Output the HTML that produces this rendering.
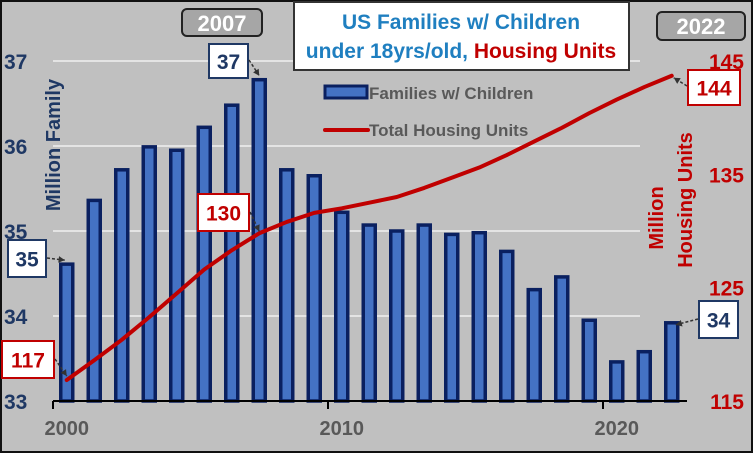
<!DOCTYPE html>
<html><head><meta charset="utf-8"><style>
body{margin:0;background:#fff}
#wrap{position:relative;width:753px;height:453px;overflow:hidden;font-family:"Liberation Sans",sans-serif}
</style></head><body>
<div id="wrap">
<svg id="svg" width="753" height="453" xmlns="http://www.w3.org/2000/svg">
<rect x="1" y="1" width="751" height="451" fill="#c0c0c0" stroke="#111" stroke-width="2"/>
<g id="grid"></g><g id="bars"></g><g id="line"></g><g id="axes"></g>
<g font-weight="bold">
<rect x="182" y="9" width="80" height="27" rx="5" fill="#a6a6a6" stroke="#222" stroke-width="2"/>
<text x="222" y="31" font-size="22" text-anchor="middle" fill="#fff">2007</text>
<rect x="657" y="12" width="88" height="28" rx="5" fill="#a6a6a6" stroke="#222" stroke-width="2"/>
<text x="701" y="34" font-size="22" text-anchor="middle" fill="#fff">2022</text>
<rect x="294" y="2" width="335" height="68" fill="#fff" stroke="#333" stroke-width="2"/>
<text x="461" y="29" font-size="21" text-anchor="middle" fill="#1f7fc0">US Families w/ Children</text>
<text x="461" y="58" font-size="21" text-anchor="middle"><tspan fill="#1f7fc0">under 18yrs/old, </tspan><tspan fill="#c00000">Housing Units</tspan></text>
<text transform="translate(60,145) rotate(-90)" font-size="20" text-anchor="middle" fill="#1f3864">Million Family</text>
<text transform="translate(663,218) rotate(-90)" font-size="20" text-anchor="middle" fill="#c00000">Million</text>
<text transform="translate(692,200) rotate(-90)" font-size="20" text-anchor="middle" fill="#c00000">Housing Units</text>
</g>
<g>
<rect x="325" y="86" width="42" height="12" fill="#4472c4" stroke="#0a2060" stroke-width="3"/>
<text x="369" y="99" font-size="17" font-weight="bold" fill="#595959">Families w/ Children</text>
<line x1="325" y1="130" x2="368" y2="130" stroke="#c00000" stroke-width="4" stroke-linecap="round"/>
<text x="369" y="136" font-size="17" font-weight="bold" fill="#595959">Total Housing Units</text>
</g>
<g id="ann" font-size="21" font-weight="bold"></g>
</svg>
</div>
<script>
const years=[2000,2001,2002,2003,2004,2005,2006,2007,2008,2009,2010,2011,2012,2013,2014,2015,2016,2017,2018,2019,2020,2021,2022];
const families=[34.61,35.36,35.72,35.99,35.95,36.22,36.48,36.78,35.72,35.65,35.22,35.07,35.0,35.07,34.96,34.98,34.76,34.31,34.46,33.95,33.46,33.58,33.92];
const housing=[116.85,118.6,120.4,122.4,124.5,126.6,128.3,129.8,130.8,131.6,132.0,132.5,133.0,133.8,134.7,135.6,136.7,137.9,139.1,140.4,141.6,142.7,143.7];
const leftTicks=[33,34,35,36,37];
const rightTicks=[115,125,135,145];
const xLabels=[2000,2010,2020];
const NS="http://www.w3.org/2000/svg";
const X0=53,BW=27.5,Y0=401,Y1=61;
const xc=i=>X0+(i+0.5)*BW;
const yL=v=>Y0-(v-33)/(37-33)*(Y0-Y1);
const yR=v=>Y0-(v-115)/(145-115)*(Y0-Y1);
function mk(tag,attrs,parent){const e=document.createElementNS(NS,tag);for(const k in attrs)e.setAttribute(k,attrs[k]);parent.appendChild(e);return e;}
const grid=document.getElementById('grid'),bars=document.getElementById('bars'),line=document.getElementById('line'),axes=document.getElementById('axes'),ann=document.getElementById('ann');
leftTicks.forEach(t=>{
 if(t>33){const g=mk('line',{x1:X0,x2:640,y1:yL(t),y2:yL(t),stroke:'#e4e4e4','stroke-width':2},grid);
 
 }
 const tx=mk('text',{x:4,y:yL(t)+8,'font-size':21,'font-weight':'bold',fill:'#1f3864'},axes);tx.textContent=t;
 
 
});
rightTicks.forEach(t=>{
 const tx=mk('text',{x:744,y:yR(t)+8,'font-size':21,'font-weight':'bold',fill:'#c00000','text-anchor':'end'},axes);tx.textContent=t;
 
 
});
families.forEach((v,i)=>{
 const r=mk('rect',{x:xc(i)-6,y:yL(v),width:12,height:Y0-yL(v),fill:'#4472c4',stroke:'#0a2060','stroke-width':3.5},bars);
 
 
});
const pl=mk('polyline',{points:housing.map((v,i)=>xc(i)+','+yR(v)).join(' '),fill:'none',stroke:'#c00000','stroke-width':4,'stroke-linejoin':'round','stroke-linecap':'round'},line);


const ax=mk('line',{x1:X0,x2:687,y1:Y0,y2:Y0,stroke:'#000','stroke-width':2},axes);


xLabels.forEach(yr=>{
 const i=years.indexOf(yr);
 const tk=mk('line',{x1:X0+i*BW,x2:X0+i*BW,y1:Y0,y2:Y0+8,stroke:'#000','stroke-width':2},axes);
 
 
 const tx=mk('text',{x:xc(i),y:Y0+34,'font-size':20,'font-weight':'bold',fill:'#595959','text-anchor':'middle'},axes);tx.textContent=yr;
 
 
});
function box(x,y,w,h,txt,col,name){
 const r=mk('rect',{x:x,y:y,width:w,height:h,fill:'#fff',stroke:col,'stroke-width':2},ann);
 
 
 const t=mk('text',{x:x+w/2,y:y+h/2+8,fill:col,'text-anchor':'middle'},ann);t.textContent=txt;
 
 
}
function arrow(x1,y1,x2,y2,name){
 const l=mk('path',{d:`M${x1},${y1} L${x2},${y2}`,stroke:'#333','stroke-width':1.5,'stroke-dasharray':'3,2',fill:'none'},ann);
 
 
 const a=Math.atan2(y2-y1,x2-x1),s=7;
 const h=mk('polygon',{points:`${x2},${y2} ${x2-s*Math.cos(a-0.5)},${y2-s*Math.sin(a-0.5)} ${x2-s*Math.cos(a+0.5)},${y2-s*Math.sin(a+0.5)}`,fill:'#333'},ann);
 
 
}
box(209,44,39,34,'37','#1f3864','label-37');arrow(249,60,xc(7),yL(families[7])-4,'arrow-37');
box(8,240,38,37,'35','#1f3864','label-35');arrow(47,258,xc(0)-2,yL(families[0])-4,'arrow-35');
box(2,341,52,37,'117','#c00000','label-117');arrow(55,359,xc(0),yR(housing[0])-4,'arrow-117');
box(198,194,51,37,'130','#c00000','label-130');arrow(250,212,xc(7),yR(housing[7])-2,'arrow-130');
box(688,70,52,35,'144','#c00000','label-144');arrow(687,86,xc(22)+2,yR(housing[22])+2,'arrow-144');
box(699,301,39,37,'34','#1f3864','label-34');arrow(698,319,xc(22)+4,yL(families[22])+2,'arrow-34');
</script>
</body></html>
